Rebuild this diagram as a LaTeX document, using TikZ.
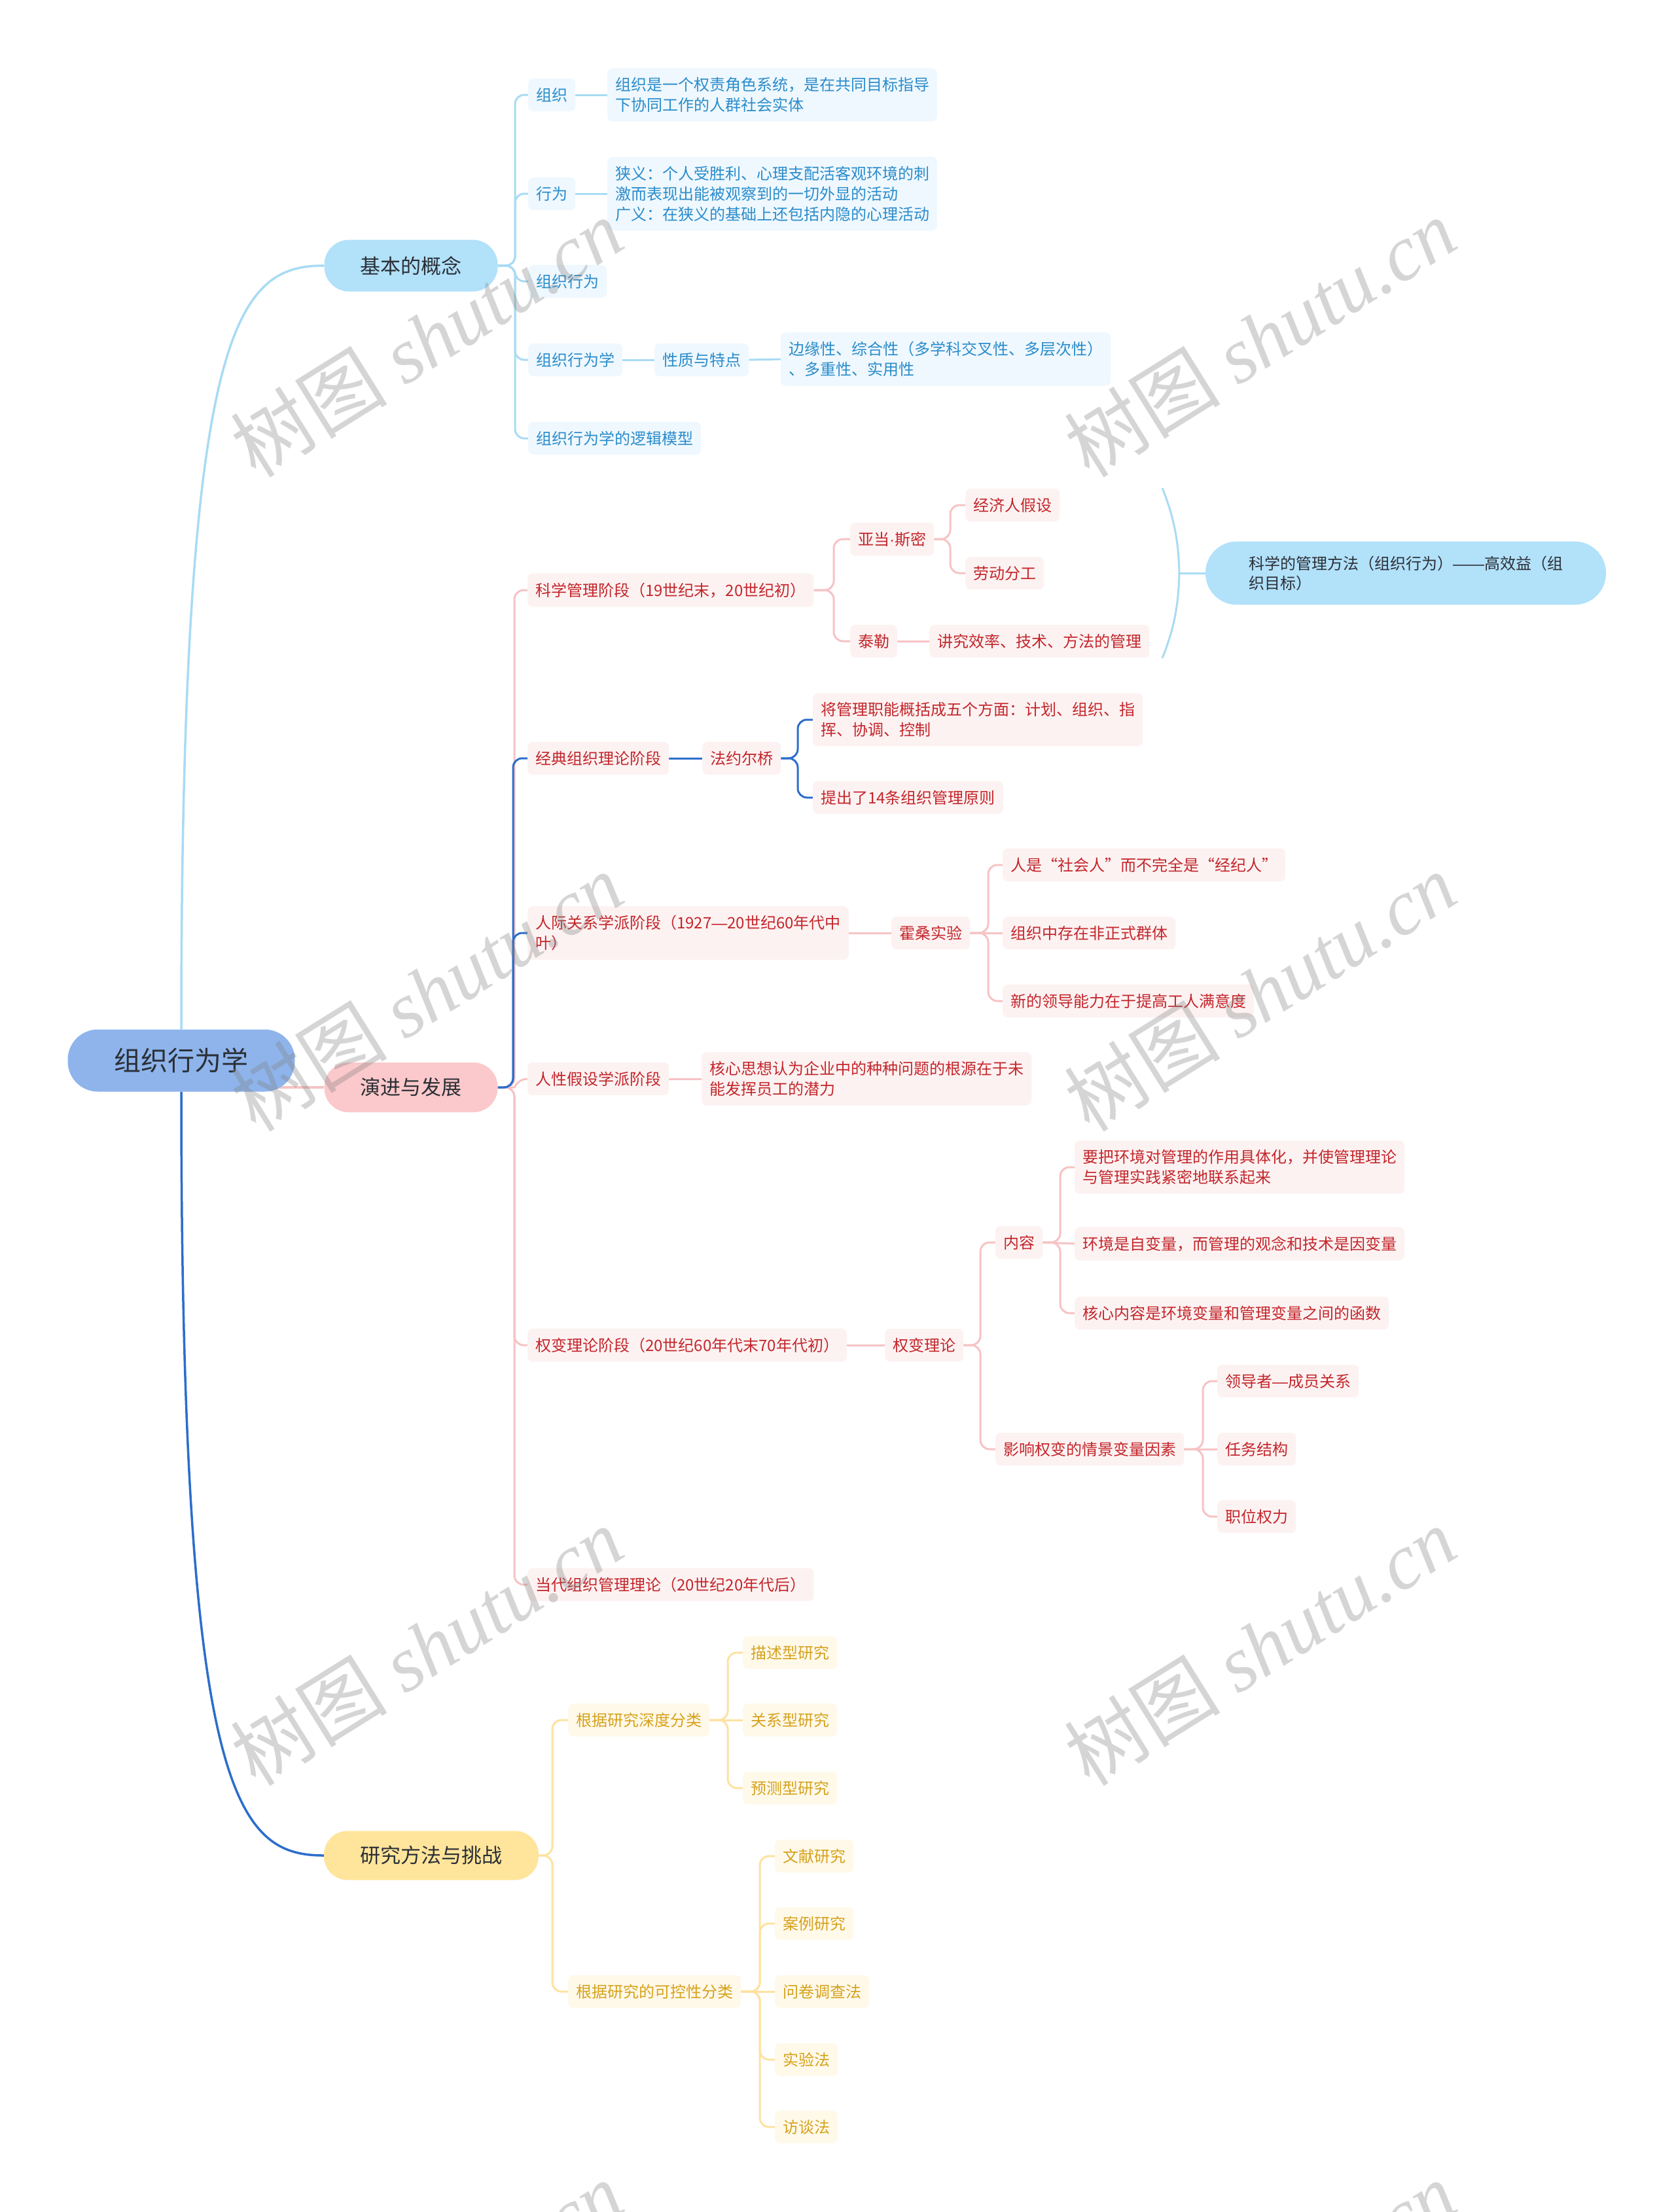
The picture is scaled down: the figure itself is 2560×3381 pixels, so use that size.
\documentclass[tikz,border=0pt]{standalone}
\usepackage{fontspec}
\setmainfont{Noto Sans CJK SC}
\newfontfamily\wmcjk{Noto Sans CJK SC}
\newfontfamily\wmlat{Liberation Serif}
\newfontfamily\latsans{Liberation Sans}
\usetikzlibrary{backgrounds}
\definecolor{rootfill}{HTML}{8EB4EB}
\definecolor{bluefill}{HTML}{B2E1FA}
\definecolor{pinkfill}{HTML}{FBC9CB}
\definecolor{yelfill}{HTML}{FFE59B}
\definecolor{blueline}{HTML}{A9DBF4}
\definecolor{pinkline}{HTML}{F6C3C4}
\definecolor{yelline}{HTML}{FDE2A0}
\definecolor{darkline}{HTML}{2C6ECB}
\definecolor{bluetext}{HTML}{2A8CCB}
\definecolor{redtext}{HTML}{C3262B}
\definecolor{yeltext}{HTML}{D6A21B}
\definecolor{bluebox}{HTML}{EFF8FE}
\definecolor{pinkbox}{HTML}{FDF2F2}
\definecolor{yelbox}{HTML}{FFF9EA}
\definecolor{maintext}{HTML}{2B2F36}
\newcommand\emd{{\latsans —}}
\newcommand\mdot{{\latsans ·}}
\tikzset{
  leaf/.style={rounded corners=8pt, inner xsep=12pt, inner ysep=14pt,
    font=\fontsize{24}{31}\selectfont, align=left, anchor=west},
  bleaf/.style={leaf, fill=bluebox, text=bluetext},
  pleaf/.style={leaf, fill=pinkbox, text=redtext},
  yleaf/.style={leaf, fill=yelbox, text=yeltext},
  mainn/.style={inner sep=0pt, font=\fontsize{31}{36}\selectfont, text=maintext},
  conn/.style={line width=3pt, rounded corners=14pt},
  bl/.style={conn, draw=blueline},
  pl/.style={conn, draw=pinkline},
  yl/.style={conn, draw=yelline},
  dl/.style={conn, draw=darkline},
  topl/.style={line width=3.5pt},
  wm/.style={rotate=32, text=gray, text opacity=0.33, inner sep=0pt,
    font=\fontsize{120}{120}\selectfont}
}
\newcommand\brk[4]{\draw[#1] (#2.east) -- (#3,0 |- #2.east) |- (#4.west);}
\newcommand\str[3]{\draw[#1] (#2.east) -- (#3.west);}
\begin{document}
\begin{tikzpicture}[x=1pt,y=-1pt]
\useasboundingbox (0,0) rectangle (2560,3381);
\begin{pgfonlayer}{background}
\fill[white] (0,0) rectangle (2560,3381);
\end{pgfonlayer}

% main nodes
\node[mainn, fill=rootfill, rounded corners=46pt, minimum width=347pt, minimum height=95pt,
  font=\fontsize{41}{48}\selectfont] (root) at (277,1621) {组织行为学};
\node[mainn, fill=bluefill, rounded corners=38pt, minimum width=265pt, minimum height=79pt] (ba) at (628,406) {基本的概念};
\node[mainn, fill=pinkfill, rounded corners=37pt, minimum width=265pt, minimum height=76pt] (evo) at (628,1662) {演进与发展};
\node[mainn, fill=yelfill, rounded corners=36pt, minimum width=328pt, minimum height=75pt] (rm) at (659,2836) {研究方法与挑战};
\node[fill=bluefill, rounded corners=48pt, inner xsep=66pt, inner ysep=22pt, align=left,
  font=\fontsize{24}{30}\selectfont, text=maintext] (sci) at (2148,876) {科学的管理方法（组织行为）\emd\emd 高效益（组\\织目标）};

% blue branch
\node[bleaf] (b1) at (807,145) {组织};
\node[bleaf] (b1d) at (928,145) {组织是一个权责角色系统，是在共同目标指导\\下协同工作的人群社会实体};
\node[bleaf] (b2) at (807,296) {行为};
\node[bleaf] (b2d) at (928,296) {狭义：个人受胜利、心理支配活客观环境的刺\\激而表现出能被观察到的一切外显的活动\\广义：在狭义的基础上还包括内隐的心理活动};
\node[bleaf] (b3) at (807,430) {组织行为};
\node[bleaf] (b4) at (807,550) {组织行为学};
\node[bleaf] (b4a) at (1000,550) {性质与特点};
\node[bleaf] (b4b) at (1193,549) {边缘性、综合性（多学科交叉性、多层次性）\\、多重性、实用性};
\node[bleaf] (b5) at (807,670) {组织行为学的逻辑模型};

% pink branch
\node[pleaf] (p1) at (806,902) {科学管理阶段（19世纪末，20世纪初）};
\node[pleaf] (p11) at (1299,824) {亚当\mdot 斯密};
\node[pleaf] (p111) at (1475,772) {经济人假设};
\node[pleaf] (p112) at (1475,876) {劳动分工};
\node[pleaf] (p12) at (1299,980) {泰勒};
\node[pleaf] (p121) at (1420,980) {讲究效率、技术、方法的管理};
\node[pleaf] (p2) at (806,1159) {经典组织理论阶段};
\node[pleaf] (p21) at (1073,1159) {法约尔桥};
\node[pleaf] (p211) at (1242,1100) {将管理职能概括成五个方面：计划、组织、指\\挥、协调、控制};
\node[pleaf] (p212) at (1242,1219) {提出了14条组织管理原则};
\node[pleaf] (p3) at (806,1426) {人际关系学派阶段（1927\emd 20世纪60年代中\\叶）};
\node[pleaf] (p31) at (1362,1426) {霍桑实验};
\node[pleaf] (p311) at (1532,1322) {人是“社会人”而不完全是“经纪人”};
\node[pleaf] (p312) at (1532,1426) {组织中存在非正式群体};
\node[pleaf] (p313) at (1532,1530) {新的领导能力在于提高工人满意度};
\node[pleaf] (p4) at (806,1649) {人性假设学派阶段};
\node[pleaf] (p41) at (1072,1649) {核心思想认为企业中的种种问题的根源在于未\\能发挥员工的潜力};
\node[pleaf] (p5) at (806,2056) {权变理论阶段（20世纪60年代末70年代初）};
\node[pleaf] (p51) at (1352,2056) {权变理论};
\node[pleaf] (p511) at (1521,1899) {内容};
\node[pleaf] (p5111) at (1642,1784) {要把环境对管理的作用具体化，并使管理理论\\与管理实践紧密地联系起来};
\node[pleaf] (p5112) at (1642,1901) {环境是自变量，而管理的观念和技术是因变量};
\node[pleaf] (p5113) at (1642,2007) {核心内容是环境变量和管理变量之间的函数};
\node[pleaf] (p512) at (1521,2215) {影响权变的情景变量因素};
\node[pleaf] (p5121) at (1860,2111) {领导者\emd 成员关系};
\node[pleaf] (p5122) at (1860,2215) {任务结构};
\node[pleaf] (p5123) at (1860,2318) {职位权力};
\node[pleaf] (p6) at (806,2422) {当代组织管理理论（20世纪20年代后）};

% yellow branch
\node[yleaf] (y1) at (868,2629) {根据研究深度分类};
\node[yleaf] (y11) at (1135,2526) {描述型研究};
\node[yleaf] (y12) at (1135,2629) {关系型研究};
\node[yleaf] (y13) at (1135,2733) {预测型研究};
\node[yleaf] (y2) at (868,3044) {根据研究的可控性分类};
\node[yleaf] (y21) at (1184,2837) {文献研究};
\node[yleaf] (y22) at (1184,2940) {案例研究};
\node[yleaf] (y23) at (1184,3044) {问卷调查法};
\node[yleaf] (y24) at (1184,3148) {实验法};
\node[yleaf] (y25) at (1184,3251) {访谈法};

\begin{pgfonlayer}{background}
% top level
\draw[blueline, topl] (root.north) .. controls (277,500) and (360,406) .. (ba.west);
\draw[pinkline, topl] (evo.west) -- (evo.west -| root.center);
\draw[darkline, topl] (root.south) .. controls (277,2740) and (360,2836) .. (rm.west);
% blue
\brk{bl}{ba}{787}{b1}
\brk{bl}{ba}{787}{b2}
\brk{bl}{ba}{787}{b3}
\brk{bl}{ba}{787}{b4}
\brk{bl}{ba}{787}{b5}
\str{bl}{b1}{b1d}
\str{bl}{b2}{b2d}
\str{bl}{b4}{b4a}
\str{bl}{b4a}{b4b}
\draw[blueline, line width=3pt] (1776,746) .. controls (1798,800) and (1801,840) .. (1802,876)
  .. controls (1801,912) and (1798,952) .. (1776,1006);
\draw[blueline, line width=3pt] (1802,876) -- (sci.west);
% pink
\brk{pl}{evo}{786}{p1}
\brk{pl}{evo}{786}{p5}
\brk{pl}{evo}{786}{p6}
\draw[pl] (evo.east) -- (772,1662) to[out=0,in=180] (p4.west);
\brk{pl}{p1}{1274}{p11}
\brk{pl}{p1}{1274}{p12}
\brk{pl}{p11}{1452}{p111}
\brk{pl}{p11}{1452}{p112}
\str{pl}{p12}{p121}
\str{pl}{p3}{p31}
\brk{pl}{p31}{1510}{p311}
\str{pl}{p31}{p312}
\brk{pl}{p31}{1510}{p313}
\str{pl}{p4}{p41}
\str{pl}{p5}{p51}
\brk{pl}{p51}{1498}{p511}
\brk{pl}{p51}{1498}{p512}
\brk{pl}{p511}{1620}{p5111}
\str{pl}{p511}{p5112}
\brk{pl}{p511}{1620}{p5113}
\brk{pl}{p512}{1838}{p5121}
\str{pl}{p512}{p5122}
\brk{pl}{p512}{1838}{p5123}
% dark blue lines
\brk{dl}{evo}{784}{p2}
\brk{dl}{evo}{784}{p3}
\str{dl}{p2}{p21}
\brk{dl}{p21}{1219}{p211}
\brk{dl}{p21}{1219}{p212}
% yellow
\brk{yl}{rm}{844}{y1}
\brk{yl}{rm}{844}{y2}
\brk{yl}{y1}{1112}{y11}
\str{yl}{y1}{y12}
\brk{yl}{y1}{1112}{y13}
\brk{yl}{y2}{1161}{y21}
\brk{yl}{y2}{1161}{y22}
\str{yl}{y2}{y23}
\brk{yl}{y2}{1161}{y24}
\brk{yl}{y2}{1161}{y25}
\end{pgfonlayer}

% watermarks
\begin{scope}
\clip (0,0) rectangle (2560,3381);
\foreach \cx in {652,1925} {
  \foreach \cy in {516,1516,2516,3516} {
    \node[wm] (wm-\cx-\cy) at (\cx,\cy) {{\wmcjk 树图} {\wmlat\itshape shutu.cn}};
  }
}
\end{scope}
\end{tikzpicture}
\end{document}
